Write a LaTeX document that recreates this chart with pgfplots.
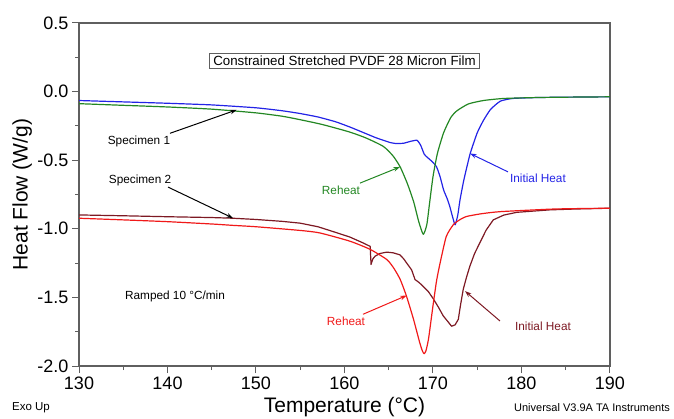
\documentclass[border=0pt]{standalone}
\usepackage{fontspec}
\setmainfont{Liberation Sans}
\usepackage{pgfplots}
\pgfplotsset{compat=1.18}
\usetikzlibrary{arrows.meta}
\definecolor{cblue}{RGB}{35,35,230}
\definecolor{cgreen}{RGB}{35,135,35}
\definecolor{cred}{RGB}{240,25,25}
\definecolor{cmaroon}{RGB}{125,25,35}
\definecolor{frame}{RGB}{95,95,95}
\newcommand{\fs}[1]{\fontsize{#1bp}{#1bp}\selectfont}
\begin{document}
\begin{tikzpicture}
\path[use as bounding box] (0,0) rectangle (674bp,419bp);
\begin{axis}[
  at={(79bp,53bp)}, anchor=south west,
  scale only axis, width=531bp, height=343bp,
  xmin=130, xmax=190, ymin=-2, ymax=0.5,
  xtick={130,140,...,190}, ytick={-2,-1.5,...,0.5},
  minor xtick={135,145,...,185}, minor ytick={-1.75,-1.25,...,0.25},
  tick align=outside, xtick pos=bottom, ytick pos=left,
  major tick length=7bp, minor tick length=4bp,
  axis line style={frame, line width=1.1bp},
  every tick/.style={frame, line width=1bp},
  tick label style={font=\fs{18}},
  /pgf/number format/assume math mode=true,
  yticklabel style={/pgf/number format/.cd, fixed, fixed zerofill, precision=1},
  xticklabel style={/pgf/number format/.cd, fixed, precision=0},
  xlabel={Temperature (°C)},
  ylabel={Heat Flow (W/g)},
  xlabel style={font=\fs{21}, at={(axis description cs:0.5,-0.1195)}, anchor=center},
  ylabel style={font=\fs{21}, at={(axis description cs:-0.107,0.5)}, anchor=center},
  every axis plot/.append style={line width=1.2bp, line join=round},
]
% Specimen 1 initial heat (blue)
\addplot[cblue, smooth, tension=0.3] coordinates {
(130,-0.065) (135,-0.075) (140,-0.085) (145,-0.097) (150,-0.118) (153,-0.140)
(155,-0.160) (157,-0.185) (159,-0.220) (160.6,-0.258) (162,-0.295) (163.5,-0.335)
(164.4,-0.355) (165.2,-0.372) (165.9,-0.379) (166.7,-0.376) (167.5,-0.362) (168.2,-0.355)
(168.6,-0.39) (169.0,-0.455) (169.3,-0.476) (169.9,-0.51) (170.4,-0.548) (170.8,-0.62)
(171.2,-0.717) (171.6,-0.78) (171.9,-0.838) (172.2,-0.91) (172.5,-0.971) (172.8,-0.90)
(173.05,-0.79) (173.5,-0.64) (174.2,-0.452) (175.0,-0.30) (175.7,-0.21) (176.5,-0.13)
(177.6,-0.07) (179,-0.05) (182,-0.043) (186,-0.04) (190,-0.038)
};
% Specimen 1 reheat (green)
\addplot[cgreen, smooth, tension=0.35] coordinates {
(130,-0.088) (135,-0.100) (140,-0.112) (145,-0.128) (150,-0.155) (153,-0.18)
(155,-0.205) (157.5,-0.24) (160.6,-0.295) (162.5,-0.34) (164.4,-0.40) (165.5,-0.47)
(166.3,-0.55) (167.1,-0.67) (167.8,-0.80) (168.4,-0.95) (168.9,-1.04) (169.3,-0.97)
(169.6,-0.82) (170.0,-0.62) (170.5,-0.45) (171.2,-0.30) (172.0,-0.19) (172.7,-0.14)
(174.0,-0.09) (175.7,-0.065) (178,-0.05) (182,-0.043) (186,-0.04) (190,-0.038)
};
% Specimen 2 initial heat (maroon)
\addplot[cmaroon] coordinates {
(130,-0.899) (135,-0.905) (140,-0.912) (145,-0.918) (147.4,-0.923) (150,-0.932)
(153,-0.946) (155,-0.959) (157,-0.985) (158.7,-1.02) (160.6,-1.06) (162,-1.10)
(162.9,-1.128) (163.0,-1.26) (163.2,-1.22) (163.45,-1.20) (164.0,-1.18) (164.77,-1.17)
(165.5,-1.175) (166.27,-1.19) (166.7,-1.22) (167.03,-1.25) (167.59,-1.30) (167.97,-1.37)
(168.4,-1.39) (168.9,-1.42) (169.5,-1.46) (170.03,-1.51) (170.6,-1.57) (171.16,-1.635)
(171.6,-1.67) (172.1,-1.71) (172.5,-1.70) (172.86,-1.66) (173.1,-1.56) (173.42,-1.44)
(173.8,-1.35) (174.18,-1.27) (174.7,-1.18) (175.31,-1.10) (176.0,-1.01) (176.81,-0.935)
(178,-0.90) (179.46,-0.88) (183.2,-0.862) (186,-0.856) (190,-0.85)
};
% Specimen 2 reheat (red)
\addplot[cred, smooth, tension=0.35] coordinates {
(130,-0.923) (135,-0.935) (140,-0.948) (145,-0.965) (147.4,-0.975) (150,-0.985)
(155,-1.012) (157.2,-1.03) (160.6,-1.09) (162.9,-1.15) (164.8,-1.225) (165.6,-1.29)
(166.3,-1.37) (167.0,-1.49) (167.8,-1.66) (168.5,-1.83) (168.8,-1.89) (169.0,-1.91)
(169.2,-1.89) (169.5,-1.80) (170.0,-1.56) (170.4,-1.38) (170.8,-1.25) (171.5,-1.056)
(172.3,-0.97) (173.0,-0.935) (173.8,-0.91) (175.5,-0.89) (177.6,-0.875) (183.2,-0.857)
(186,-0.853) (190,-0.85)
};
% title box
\node[draw=frame, line width=1bp, fill=white, inner xsep=3.5bp, inner ysep=2.5bp, font=\fs{13.3}]
  at (axis cs:160.0,0.225) {Constrained Stretched PVDF 28 Micron Film};
% annotations
\tikzset{arr/.style={-{Stealth[length=6.5bp,width=4.5bp]}, line width=1bp}}
\node[font=\fs{11.8}] at (axis cs:136.78,-0.362) {Specimen 1};
\draw[arr] (axis cs:140.28,-0.304) -- (axis cs:147.82,-0.133);
\node[font=\fs{11.8}] at (axis cs:136.9,-0.645) {Specimen 2};
\draw[arr] (axis cs:140.06,-0.696) -- (axis cs:147.4,-0.922);
\node[font=\fs{11.8}] at (axis cs:140.85,-1.493) {Ramped 10 °C/min};
\node[font=\fs{11.8}, text=cgreen] at (axis cs:159.6,-0.717) {Reheat};
\draw[arr, cgreen] (axis cs:161.75,-0.667) -- (axis cs:166.27,-0.549);
\node[font=\fs{11.8}, text=cblue] at (axis cs:181.86,-0.63) {Initial Heat};
\draw[arr, cblue] (axis cs:178.47,-0.585) -- (axis cs:174.18,-0.451);
\node[font=\fs{11.8}, text=cred] at (axis cs:160.17,-1.674) {Reheat};
\draw[arr, cred] (axis cs:162.09,-1.623) -- (axis cs:167.03,-1.486);
\node[font=\fs{11.8}, text=cmaroon] at (axis cs:182.43,-1.71) {Initial Heat};
\draw[arr, cmaroon] (axis cs:177.57,-1.672) -- (axis cs:173.62,-1.454);
\end{axis}
\node[font=\fs{11.5}] at (31bp,11bp) {Exo Up};
\node[font=\fs{11}] at (592bp,11bp) {Universal V3.9A TA Instruments};
\end{tikzpicture}
\end{document}
